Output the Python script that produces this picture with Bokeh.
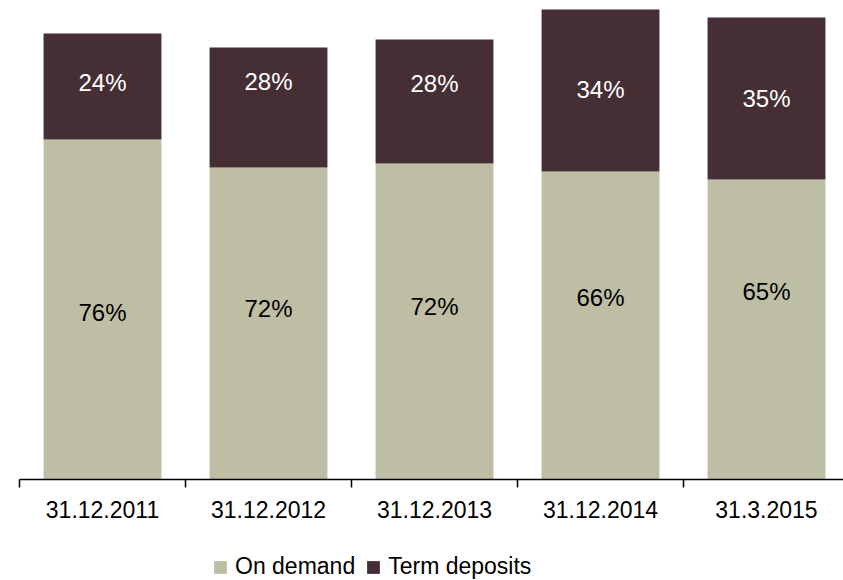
from bokeh.plotting import figure
from bokeh.models import Range1d, FixedTicker, Legend, LegendItem
from bokeh.layouts import column
from bokeh.core.properties import value
from bokeh.embed import file_html
from bokeh.resources import INLINE

# Data
dates = ["31.12.2011", "31.12.2012", "31.12.2013", "31.12.2014", "31.3.2015"]
on_demand = [340, 312, 316, 308, 300]
term_deposits = [106, 120, 124, 162, 162]
series_names = ["On demand", "Term deposits"]
# vertical anchor of the percentage labels (data units)
label_y_demand = [167, 171, 173, 182, 188]
label_y_term = [397, 398, 396, 390, 381]

FONT = "Liberation Sans"
C_DEMAND = "#BEBEA4"
C_TERM = "#452E34"

xs = [i + 0.5 for i in range(len(dates))]
totals = [a + b for a, b in zip(on_demand, term_deposits)]
pct_demand = [f"{round(100 * a / t)}%" for a, t in zip(on_demand, totals)]
pct_term = [f"{round(100 * b / t)}%" for b, t in zip(term_deposits, totals)]

p = figure(width=843, height=525, output_backend="svg", toolbar_location=None,
           x_range=Range1d(0, 824 / 166), y_range=Range1d(0, 479),
           y_axis_location=None,
           min_border_left=19, min_border_right=0, min_border_top=0, min_border_bottom=46)
p.outline_line_color = None
p.grid.visible = False

p.vbar(x=xs, bottom=0, top=on_demand, width=0.71, fill_color=C_DEMAND, line_color=None)
p.vbar(x=xs, bottom=on_demand, top=totals, width=0.71, fill_color=C_TERM, line_color=None)

p.text(x=xs, y=label_y_demand, text=pct_demand, text_align="center", text_baseline="middle",
       text_font=value(FONT), text_font_size="24px", text_color="black")
p.text(x=xs, y=label_y_term, text=pct_term, text_align="center", text_baseline="middle",
       text_font=value(FONT), text_font_size="24px", text_color="white")

ax = p.xaxis[0]
ax.ticker = FixedTicker(ticks=xs, minor_ticks=list(range(len(dates) + 1)))
ax.major_label_overrides = {x: d for x, d in zip(xs, dates)}
ax.major_tick_line_color = None
ax.major_tick_out = 8
ax.major_tick_in = 0
ax.minor_tick_out = 8
ax.minor_tick_in = 0
ax.minor_tick_line_color = "black"
ax.minor_tick_line_width = 1.5
ax.axis_line_color = "black"
ax.axis_line_width = 1.5
ax.major_label_standoff = 13
ax.major_label_text_font = FONT
ax.major_label_text_font_size = "23px"
ax.major_label_text_color = "black"

# Legend strip (proxy renderers lie outside the visible range)
lf = figure(width=843, height=55, output_backend="svg", toolbar_location=None,
            x_range=Range1d(0, 1), y_range=Range1d(0, 1),
            x_axis_location=None, y_axis_location=None,
            min_border_left=0, min_border_right=0, min_border_top=0, min_border_bottom=0)
lf.outline_line_color = None
lf.grid.visible = False
d1 = lf.vbar(x=[-5], top=[-5], width=0.1, fill_color=C_DEMAND, line_color=None)
d2 = lf.vbar(x=[-5], top=[-5], width=0.1, fill_color=C_TERM, line_color=None)

legend = Legend(items=[LegendItem(label=series_names[0], renderers=[d1]),
                       LegendItem(label=series_names[1], renderers=[d2])],
                orientation="horizontal", location=(193, 0),
                glyph_width=16, glyph_height=16, label_standoff=7, spacing=10,
                padding=0, margin=0, border_line_color=None, background_fill_alpha=0,
                label_text_font=FONT, label_text_font_size="23px", label_text_color="black")
lf.add_layout(legend)

layout = column(p, lf, spacing=0)
open("out.html", "w").write(file_html(layout, INLINE))
